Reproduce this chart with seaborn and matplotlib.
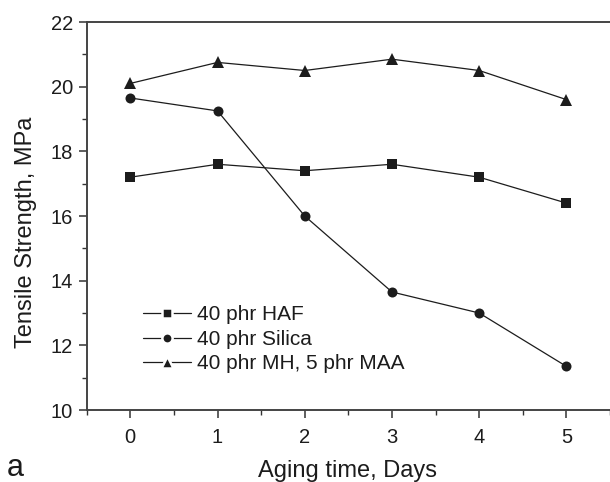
import matplotlib
matplotlib.use("Agg")
import matplotlib.pyplot as plt
import seaborn as sns
import pandas as pd
from matplotlib.ticker import MultipleLocator

days = [0, 1, 2, 3, 4, 5]
haf = [17.2, 17.6, 17.4, 17.6, 17.2, 16.4]
silica = [19.65, 19.25, 16.0, 13.65, 13.0, 11.35]
mh_maa = [20.1, 20.75, 20.5, 20.85, 20.5, 19.6]
series_names = ["40 phr HAF", "40 phr Silica", "40 phr MH, 5 phr MAA"]
series_values = [haf, silica, mh_maa]
series_markers = ["s", "o", "^"]
marker_sizes = [6.8, 7.2, 8.2]
legend_marker_sizes = [7.0, 7.4, 9.0]

sns.set_theme(style="ticks")
plt.rcParams['font.family'] = ['Liberation Sans', 'DejaVu Sans']

fig = plt.figure(figsize=(6.1, 4.82), dpi=100)
ax = fig.add_axes([86.7/610, 1 - 410/482, 1 - 86.7/610, (410 - 22)/482])

ink = "#1c1c1c"
for name, vals, m, ms in zip(series_names, series_values, series_markers, marker_sizes):
    df = pd.DataFrame({"day": days, "ts": vals})
    sns.lineplot(data=df, x="day", y="ts", marker=m, markersize=ms,
                 markeredgewidth=0, color=ink, linewidth=0.9, label=name, ax=ax)

ax.set_xlim(-0.5, 5.5)
ax.set_ylim(10, 22)
ax.xaxis.set_major_locator(MultipleLocator(1))
ax.xaxis.set_minor_locator(MultipleLocator(0.5))
ax.yaxis.set_major_locator(MultipleLocator(2))
ax.yaxis.set_minor_locator(MultipleLocator(1))
ax.tick_params(which="major", direction="out", length=6, width=1.1, color="#333333",
               labelsize=14.5, labelcolor=ink, pad=4)
ax.tick_params(which="minor", direction="out", length=3.5, width=1.0, color="#333333")
ax.tick_params(axis="x", pad=7)

for side in ["left", "bottom", "top"]:
    ax.spines[side].set_linewidth(1.4)
    ax.spines[side].set_color("#444444")
ax.spines["right"].set_visible(False)

ax.set_xlabel("")
ax.set_ylabel("Tensile Strength, MPa", fontsize=17, color=ink)
ax.yaxis.set_label_coords((37 - 86.7) / 523.3, (410 - 232) / 388)
fig.text(348/610, 1 - 477/482, "Aging time, Days", fontsize=17, color=ink,
         ha="center", va="baseline")
fig.text(7/610, 1 - 476/482, "a", fontsize=22, color=ink, ha="left", va="baseline")

leg = ax.legend(loc="upper left", bbox_to_anchor=(0.1076, 0.27), frameon=False,
                fontsize=15, handlelength=2.3, handletextpad=0.3, labelspacing=0.27,
                borderaxespad=0, borderpad=0)
for h, lms in zip(leg.get_lines(), legend_marker_sizes):
    h.set_markersize(lms)
    h.set_markeredgecolor("white")
    h.set_markeredgewidth(1.8)
for t in leg.get_texts():
    t.set_color(ink)

fig.savefig("out.png", dpi=100)
